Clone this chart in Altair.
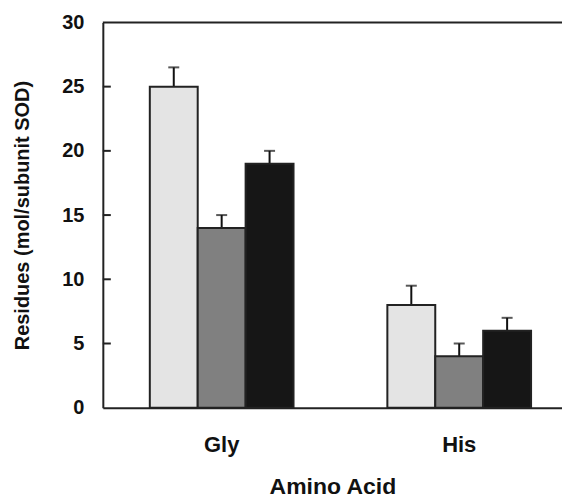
import altair as alt
import pandas as pd

amino_acids = ["Gly", "Gly", "Gly", "His", "His", "His"]
series = ["A", "B", "C", "A", "B", "C"]
values = [25, 14, 19, 8, 4, 6]
upper = [26.5, 15, 20, 9.5, 5, 7]
series_order = ["A", "B", "C"]
series_colors = ["#e4e4e4", "#808080", "#161616"]
tick_values = [5, 10, 15, 20, 25]
top_value = [30]

df = pd.DataFrame({"aa": amino_acids, "s": series, "v": values, "u": upper})
ticks_df = pd.DataFrame({"t": tick_values})
top_df = pd.DataFrame({"t": top_value})

FONT = "Liberation Sans"

x = alt.X(
    "aa:N",
    title="Amino Acid",
    sort=["Gly", "His"],
    scale=alt.Scale(paddingInner=0.395, paddingOuter=0.164, align=0.603),
    axis=alt.Axis(
        labelAngle=0, ticks=False, tickSize=0, labelPadding=27,
        labelFontSize=22, labelFont=FONT, labelFontWeight="bold", labelColor="#111",
        titleFontSize=23, titleFont=FONT, titleFontWeight="bold", titleColor="#111",
        titlePadding=20, domainColor="#222", domainWidth=2,
    ),
)
xoff = alt.XOffset("s:N", sort=series_order, scale=alt.Scale(paddingInner=0, paddingOuter=0))
y_scale = alt.Scale(domain=[0, 30], nice=False)
y = alt.Y(
    "v:Q",
    title="Residues (mol/subunit SOD)",
    scale=y_scale,
    axis=alt.Axis(
        values=[0, 5, 10, 15, 20, 25, 30], ticks=False, tickSize=0, labelPadding=19,
        grid=False, labelFontSize=20, labelFont=FONT, labelFontWeight="bold", labelColor="#111",
        titleFontSize=20, titleFont=FONT, titleFontWeight="bold", titleColor="#111",
        titlePadding=29, domainColor="#222", domainWidth=2,
    ),
)

base = alt.Chart(df)

bars = base.mark_bar(stroke="#222", strokeWidth=2).encode(
    x=x, xOffset=xoff, y=y,
    color=alt.Color("s:N", sort=series_order,
                    scale=alt.Scale(domain=series_order, range=series_colors), legend=None),
)

err = base.mark_rule(color="#111", strokeWidth=2).encode(
    x=x, xOffset=xoff, y=alt.Y("v:Q", scale=y_scale), y2="u:Q",
)

caps = base.mark_tick(color="#111", thickness=2, size=11, orient="horizontal").encode(
    x=x, xOffset=xoff, y=alt.Y("u:Q", scale=y_scale),
)

# inward-pointing y-axis ticks
inner_ticks = alt.Chart(ticks_df).mark_rule(color="#222", strokeWidth=2).encode(
    y=alt.Y("t:Q", scale=y_scale),
    x=alt.value(0),
    x2=alt.value(8),
)

top_line = alt.Chart(top_df).mark_rule(color="#222", strokeWidth=2).encode(
    y=alt.Y("t:Q", scale=y_scale),
)

chart = alt.layer(err, bars, caps, top_line, inner_ticks).properties(
    width=460, height=386,
    autosize=alt.AutoSizeParams(type="none"),
    padding={"left": 95, "top": 14, "right": 0, "bottom": 92},
).configure_view(stroke=None).configure_axis(grid=False)

chart.save("out.html", embed_options={"renderer": "svg", "actions": False})
